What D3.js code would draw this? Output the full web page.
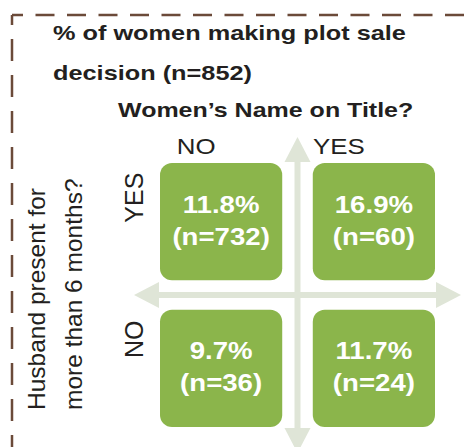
<!DOCTYPE html>
<html>
<head>
<meta charset="utf-8">
<script src="https://cdn.jsdelivr.net/npm/d3@7"></script>
<style>
  html, body { margin: 0; padding: 0; background: #fff; }
  svg { display: block; }
</style>
</head>
<body>
<div id="chart"></div>
<script>
// Data
const colLabels = ["NO", "YES"];   // Women's name on title?
const rowLabels = ["YES", "NO"];   // Husband present > 6 months?
const pctValues = [[11.8, 16.9], [9.7, 11.7]];
const nValues = [[732, 60], [36, 24]];
const titleLines = ["% of women making plot sale", "decision (n=852)"];
const colTitle = "Women\u2019s Name on Title?";
const rowTitleLines = ["Husband present for", "more than 6 months?"];

const W = 475, H = 447;
const green = "#8bb54b";
const arrowColor = "#dfe5d7";
const textColor = "#231f20";
const font = "'Liberation Sans', Arial, sans-serif";

const svg = d3.select("#chart").append("svg")
  .attr("width", W).attr("height", H);

// Borda tracejada
svg.append("line")
  .attr("x1", 12).attr("y1", 15).attr("x2", W + 5).attr("y2", 15)
  .attr("stroke", "#6b4a39").attr("stroke-width", 2.5)
  .attr("stroke-dasharray", "19 12.5").attr("stroke-dashoffset", 8);
svg.append("line")
  .attr("x1", 12).attr("y1", 15).attr("x2", 12).attr("y2", H + 5)
  .attr("stroke", "#6b4a39").attr("stroke-width", 2.5)
  .attr("stroke-dasharray", "22 14").attr("stroke-dashoffset", 12);

// Escalas
const x = d3.scaleBand().domain(colLabels).range([160, 435]).paddingInner(0.2);
const y = d3.scaleBand().domain(rowLabels).range([163, 427]).paddingInner(0.2);

// texto esticado horizontalmente
function addText(px, py, str, opts) {
  const g = svg.append("g")
    .attr("transform", `translate(${px},${py}) rotate(${opts.rotate || 0}) scale(${opts.sx || 1},1)`);
  return g.append("text")
    .attr("x", 0).attr("y", 0)
    .attr("font-family", font)
    .attr("font-size", opts.size + "px")
    .attr("font-weight", opts.bold ? "bold" : "normal")
    .attr("fill", opts.fill || textColor)
    .attr("text-anchor", opts.anchor || "start")
    .text(str);
}

// Titulo
titleLines.forEach((t, i) => addText(53, 40 + i * 40, t, { size: 21, bold: true, sx: 1.205 }));
addText(118, 117, colTitle, { size: 21, bold: true, sx: 1.19 });

// Setas (eixos)
const xMid = (x(colLabels[0]) + x.bandwidth() + x(colLabels[1])) / 2;
const yMid = (y(rowLabels[0]) + y.bandwidth() + y(rowLabels[1])) / 2;
const x0 = x.range()[0], x1 = x.range()[1];
const y0 = y.range()[0], y1 = y.range()[1];
const ext = 26, head = 25, hw = 13;

const arrows = svg.append("g");
arrows.append("line").attr("x1", xMid).attr("x2", xMid)
  .attr("y1", y0 - ext + head).attr("y2", y1 + ext - head)
  .attr("stroke", arrowColor).attr("stroke-width", 6);
arrows.append("line").attr("y1", yMid).attr("y2", yMid)
  .attr("x1", x0 - ext + head).attr("x2", x1 + ext - head)
  .attr("stroke", arrowColor).attr("stroke-width", 6);
const heads = [
  [[xMid, y0 - ext], [xMid - hw, y0 - ext + head], [xMid + hw, y0 - ext + head]],
  [[xMid, y1 + ext], [xMid - hw, y1 + ext - head], [xMid + hw, y1 + ext - head]],
  [[x0 - ext, yMid], [x0 - ext + head, yMid - hw], [x0 - ext + head, yMid + hw]],
  [[x1 + ext, yMid], [x1 + ext - head, yMid - hw], [x1 + ext - head, yMid + hw]],
];
arrows.selectAll("path.head").data(heads).enter().append("path")
  .attr("class", "head")
  .attr("d", (d) => d3.line()(d) + "Z")
  .attr("fill", arrowColor);

// Celulas
const cells = [];
rowLabels.forEach((r, i) => {
  colLabels.forEach((c, j) => {
    cells.push({ row: r, col: c, pct: pctValues[i][j], n: nValues[i][j] });
  });
});

svg.selectAll("rect.cell").data(cells).enter().append("rect")
  .attr("class", "cell")
  .attr("x", (d) => x(d.col))
  .attr("y", (d) => y(d.row))
  .attr("width", x.bandwidth())
  .attr("height", y.bandwidth())
  .attr("rx", 12).attr("ry", 12)
  .attr("fill", green);

cells.forEach((d) => {
  const cx = x(d.col) + x.bandwidth() / 2;
  const cy = y(d.row) + y.bandwidth() / 2;
  addText(cx, cy - 9, d.pct.toFixed(1) + "%", { size: 24, bold: true, sx: 1.15, fill: "#fff", anchor: "middle" });
  addText(cx, cy + 23, "(n=" + d.n + ")", { size: 24, bold: true, sx: 1.15, fill: "#fff", anchor: "middle" });
});

// Rotulos das colunas
const colOffset = [-25, -35];
colLabels.forEach((c, j) => {
  addText(x(c) + x.bandwidth() / 2 + colOffset[j], 154, c, { size: 22.5, sx: 1.15, anchor: "middle" });
});

// Rotulos das linhas
const rowOffset = [-24, -29];
rowLabels.forEach((r, i) => {
  addText(143, y(r) + y.bandwidth() / 2 + rowOffset[i], r, { size: 25, rotate: -90, anchor: "middle" });
});

// Titulo do eixo y
rowTitleLines.forEach((t, i) => addText(45 + i * 37, 410, t, { size: 24.5, rotate: -90 }));
</script>
</body>
</html>
